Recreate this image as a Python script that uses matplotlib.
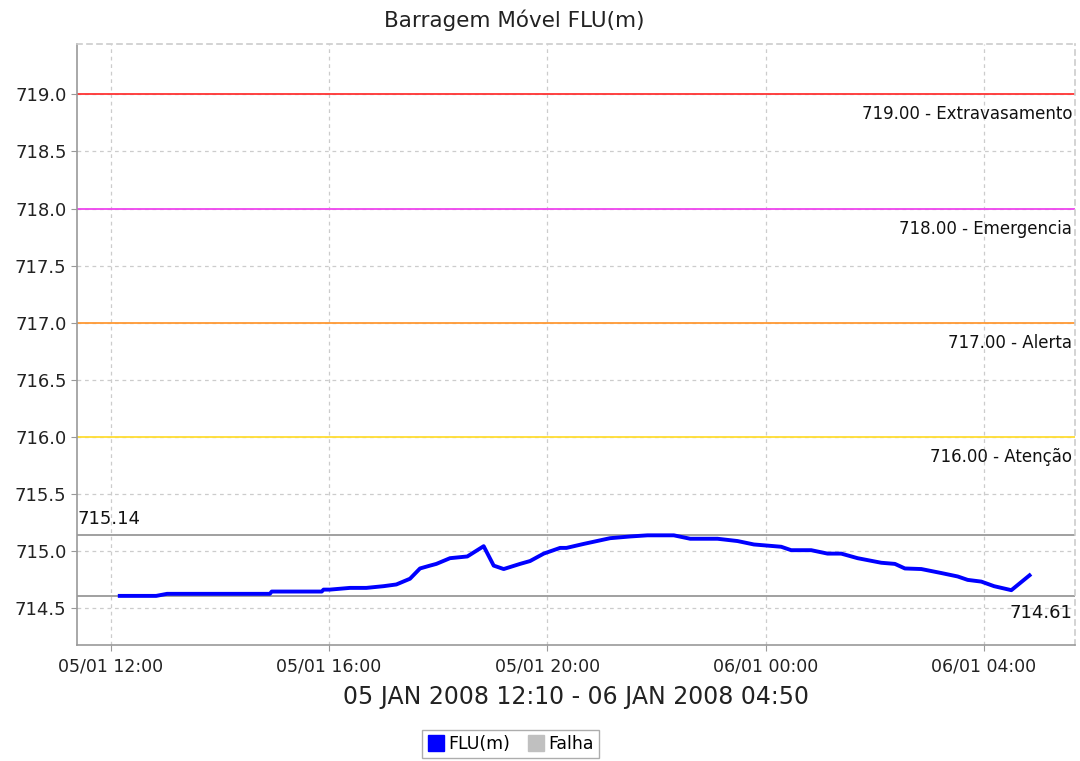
import numpy as np
import pandas as pd
import matplotlib
matplotlib.use('Agg')
import matplotlib.pyplot as plt
import matplotlib.dates as mdates
from matplotlib.lines import Line2D

# readings (approx) from the reference
times = ['2008-01-05 12:10', '2008-01-05 12:50', '2008-01-05 13:02', '2008-01-05 14:55',
         '2008-01-05 14:57', '2008-01-05 15:52', '2008-01-05 15:54', '2008-01-05 16:01',
         '2008-01-05 16:23', '2008-01-05 16:41', '2008-01-05 17:00', '2008-01-05 17:14',
         '2008-01-05 17:29', '2008-01-05 17:40', '2008-01-05 17:51', '2008-01-05 17:58',
         '2008-01-05 18:13', '2008-01-05 18:32', '2008-01-05 18:50', '2008-01-05 19:01',
         '2008-01-05 19:12', '2008-01-05 19:30', '2008-01-05 19:41', '2008-01-05 19:56',
         '2008-01-05 20:14', '2008-01-05 20:21', '2008-01-05 20:40', '2008-01-05 21:09',
         '2008-01-05 21:31', '2008-01-05 21:50', '2008-01-05 22:19', '2008-01-05 22:37',
         '2008-01-05 23:07', '2008-01-05 23:29', '2008-01-05 23:47', '2008-01-06 00:02',
         '2008-01-06 00:17', '2008-01-06 00:28', '2008-01-06 00:50', '2008-01-06 01:08',
         '2008-01-06 01:23', '2008-01-06 01:41', '2008-01-06 02:07', '2008-01-06 02:22',
         '2008-01-06 02:33', '2008-01-06 02:51', '2008-01-06 03:13', '2008-01-06 03:31',
         '2008-01-06 03:42', '2008-01-06 03:57', '2008-01-06 04:11', '2008-01-06 04:30',
         '2008-01-06 04:50']
flu = [714.61, 714.61, 714.628, 714.628,
       714.648, 714.648, 714.665, 714.665,
       714.68, 714.68, 714.695, 714.71,
       714.76, 714.85, 714.875, 714.89,
       714.94, 714.955, 715.045, 714.875,
       714.845, 714.89, 714.915, 714.98,
       715.03, 715.03, 715.065, 715.115,
       715.13, 715.14, 715.14, 715.11,
       715.11, 715.09, 715.06, 715.05,
       715.04, 715.01, 715.01, 714.98,
       714.98, 714.94, 714.90, 714.89,
       714.85, 714.845, 714.81, 714.78,
       714.75, 714.735, 714.695, 714.66,
       714.79]

limits = [719.0, 718.0, 717.0, 716.0]
limit_names = ['Extravasamento', 'Emergencia', 'Alerta', 'Atenção']
limit_colors = ['#ff3333', '#ee44ee', '#ff9933', '#ffdd33']
max_val = 715.14
min_val = 714.61

t = pd.to_datetime(times)

fig = plt.figure(figsize=(10.8, 7.61), dpi=100)
ax = fig.add_axes([0.0713, 0.1524, 0.9241, 0.7898])

for v, c in zip(limits, limit_colors):
    ax.axhline(v, color=c, lw=1.3, zorder=2)
for v in (max_val, min_val):
    ax.axhline(v, color='#999999', lw=1.3, zorder=2)

ax.plot(t, flu, color='#0000ff', lw=2.8, zorder=3)

ax.set_xlim(pd.Timestamp('2008-01-05 11:23'), pd.Timestamp('2008-01-06 05:40'))
ax.set_ylim(714.18, 719.44)
ax.set_yticks(np.arange(714.5, 719.01, 0.5))
ax.yaxis.set_major_formatter(matplotlib.ticker.FormatStrFormatter('%.1f'))
ax.xaxis.set_major_locator(mdates.HourLocator(byhour=[0, 4, 8, 12, 16, 20]))
ax.xaxis.set_major_formatter(mdates.DateFormatter('%d/%m %H:%M'))

ax.grid(True, color='#cccccc', ls=(0, (3, 3)), lw=0.9)
ax.set_axisbelow(True)
for s in ax.spines.values():
    s.set_color('#999999')
    s.set_linewidth(1.2)
ax.spines['top'].set_linestyle((0, (3, 3)))
ax.spines['top'].set_color('#cccccc')
ax.spines['right'].set_linestyle((0, (3, 3)))
ax.spines['right'].set_color('#cccccc')
ax.tick_params(axis='both', colors='#999999', labelcolor='#222222', length=4)
ax.tick_params(axis='x', labelsize=12.5, pad=5)
ax.tick_params(axis='y', labelsize=13)

# limit labels
for v, n in zip(limits, limit_names):
    ax.annotate('%.2f - %s' % (v, n), xy=(1, v), xycoords=('axes fraction', 'data'),
                xytext=(-2, -8), textcoords='offset points', ha='right', va='top',
                fontsize=12, color='#111111')
ax.annotate('%.2f' % max_val, xy=(0, max_val), xycoords=('axes fraction', 'data'),
            xytext=(0, 5), textcoords='offset points', ha='left', va='bottom',
            fontsize=13, color='#111111')
ax.annotate('%.2f' % min_val, xy=(1, min_val), xycoords=('axes fraction', 'data'),
            xytext=(-2, -6), textcoords='offset points', ha='right', va='top',
            fontsize=13, color='#111111')

fig.text(0.476, 0.973, 'Barragem Móvel FLU(m)', ha='center', va='center', fontsize=15.5, color='#222222')
ax.set_xlabel('05 JAN 2008 12:10 - 06 JAN 2008 04:50', fontsize=17, color='#222222', labelpad=7)

handles = [Line2D([], [], marker='s', ls='none', color='#0000ff', markersize=11),
           Line2D([], [], marker='s', ls='none', color='#c0c0c0', markersize=11)]
fig.legend(handles, ['FLU(m)', 'Falha'], loc='center', bbox_to_anchor=(0.473, 0.022),
           ncol=2, fontsize=12.5, frameon=True, fancybox=False, edgecolor='#999999',
           handletextpad=0.2, columnspacing=1.0, borderpad=0.3, handlelength=1.0)

fig.savefig('out.png', dpi=100)
